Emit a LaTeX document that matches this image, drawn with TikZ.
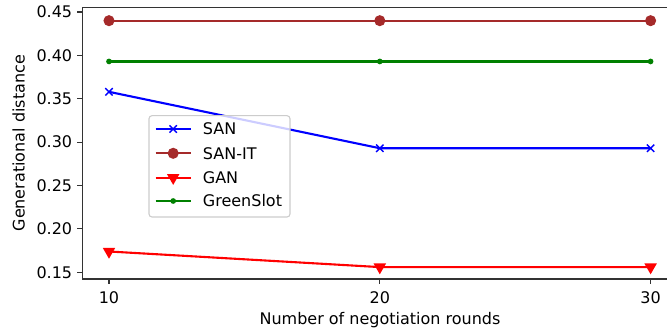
\documentclass[tikz,border=0pt]{standalone}
\usepackage{fontspec}
\setmainfont{DejaVu Sans}
\usetikzlibrary{plotmarks}
\definecolor{sanblue}{RGB}{0,0,255}
\definecolor{sanitred}{RGB}{165,42,42}
\definecolor{ganred}{RGB}{255,0,0}
\definecolor{gsgreen}{RGB}{0,128,0}

\begin{document}
\begin{tikzpicture}[
		x=1pt, y=1pt,
		every node/.style={font=\fontsize{16pt}{19pt}\selectfont, inner sep=0pt},
		spine/.style={draw=black!80, line width=1.1pt},
		san/.style={color=sanblue, line width=2.1pt, mark=x, mark size=5.2pt, mark options={line width=1.4pt}},
		sanit/.style={color=sanitred, line width=2.1pt, mark=*, mark size=4.8pt, mark options={line width=1.4pt}},
		gan/.style={color=ganred, line width=2.1pt, mark=triangle*, mark size=5.8pt, mark options={line width=1.4pt, rotate=180}},
		greenslot/.style={color=gsgreen, line width=2.1pt, mark=*, mark size=2.1pt, mark options={line width=1.4pt}}]
		
		\useasboundingbox (0,0) rectangle (667,334);
		
		% data, in the units of the axes
		\begin{scope}[shift={(-161.8pt,-68.47pt)}, x=27.08pt, y=867.7pt]
			\draw[sanit] plot coordinates {(10,0.44) (20,0.44) (30,0.44)};
			\draw[greenslot] plot coordinates {(10,0.393) (20,0.393) (30,0.393)};
			\draw[san] plot coordinates {(10,0.358) (20,0.293) (30,0.293)};
			\draw[gan] plot coordinates {(10,0.174) (20,0.156) (30,0.156)};
			
			\foreach \v/\n in {0.15/a,0.20/b,0.25/c,0.30/d,0.35/e,0.40/f,0.45/g}
				\draw[spine] (9.014,\v) -- ++(-4.9pt,0) node[anchor=east, xshift=-4.7pt] (ytick\n) {\v};
			\foreach \r in {10,20,30}
				\draw[spine] (\r,0.1423) -- ++(0,-4.9pt) node[anchor=north, yshift=-7.6pt] (xtick\r) {\r};
		\end{scope}
		
		% axes
		\draw[spine] (667,326.7) -- (82.3,326.7) -- (82.3,55) -- (667,55);
		\node[rotate=90, anchor=north] (ylab) at (12.3,190.8) {Generational distance};
		\node[anchor=north] (xlab) at (380,22) {Number of negotiation rounds};
		
		% legend
		\draw[draw=black!20, line width=1.1pt, fill=white, fill opacity=0.8, rounded corners=3pt] (149,218.3) rectangle (290,117);
		\draw[san, mark indices={2}] plot coordinates {(155.7,205) (173.2,205) (190.7,205)};
		\draw[sanit, mark indices={2}] plot coordinates {(155.7,180.7) (173.2,180.7) (190.7,180.7)};
		\draw[gan, mark indices={2}] plot coordinates {(155.7,156.3) (173.2,156.3) (190.7,156.3)};
		\draw[greenslot, mark indices={2}] plot coordinates {(155.7,133) (173.2,133) (190.7,133)};
		\node[anchor=base west] (lsan) at (202.7,199.2) {SAN};
		\node[anchor=base west] (lsanit) at (202.7,174.9) {SAN-IT};
		\node[anchor=base west] (lgan) at (202.7,150.5) {GAN};
		\node[anchor=base west] (lgreenslot) at (202.7,127.2) {GreenSlot};
		
	\end{tikzpicture}
\end{document}
